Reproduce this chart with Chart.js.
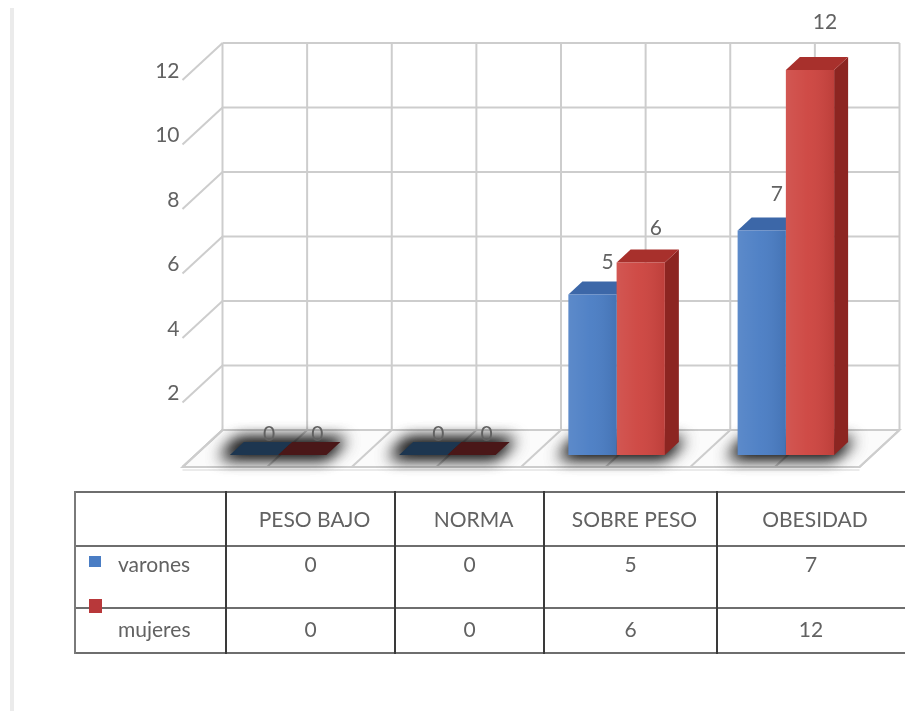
<!DOCTYPE html>
<html>
<head>
<meta charset="utf-8">
<script src="https://cdn.jsdelivr.net/npm/chart.js@4/dist/chart.umd.min.js"></script>
<style>
  html, body { margin: 0; padding: 0; background: #fff; }
  #wrap { position: relative; width: 905px; height: 711px; overflow: hidden; background: #fff; }
  #c { position: absolute; left: 0; top: 0; }
  .t { position: absolute; font-family: Lato, "Open Sans", sans-serif; font-size: 21px; color: #626262;
       white-space: nowrap; line-height: 1; transform: translate(-50%, -50%); }
  .tl { transform: translate(0, -50%); }
  .ln { position: absolute; }
</style>
</head>
<body>
<div id="wrap">
  <div class="ln" style="left:10px;top:8px;width:4px;height:703px;background:#ebebeb"></div>
  <canvas id="c" width="905" height="711"></canvas>
  <div id="tbl"></div>
</div>
<script>
// Categories and series
const categories = ['PESO BAJO', 'NORMA', 'SOBRE PESO', 'OBESIDAD'];
const seriesNames = ['varones', 'mujeres'];
const varones = [0, 0, 5, 7];
const mujeres = [0, 0, 6, 12];
const yMax = 12;
const yStep = 2;

// Colours for the faces of each series: front, side, top, flat (zero value)
const faceColors = [
  { front: '#4a7dc4', side: '#2f5590', top: '#3c67a8', flat: '#1d3650', key: '#4a7dc4' },
  { front: '#cd443f', side: '#8c2521', top: '#a8302c', flat: '#4a1718', key: '#b8383a' }
];

// Pseudo-3D geometry (pixel offsets)
const WALL_DX = 29, WALL_DY = -25, WALL_K = 1.005;   // back wall relative to the bar front plane
const FLOOR_DX = -40, FLOOR_DY = 37;                 // floor depth, from wall to front edge
const BAR_DX = 14, BAR_DY = -13;                     // bar depth
const TEXT = '#626262';
const FONT = '21px Lato, "Open Sans", sans-serif';

const series = [varones, mujeres];

const box3d = {
  id: 'box3d',
  beforeDatasetsDraw(chart) {
    const { ctx, chartArea: ca, scales: { y } } = chart;
    const yZero = y.getPixelForValue(0);
    const wallY = v => yZero + WALL_DY - (yZero - y.getPixelForValue(v)) * WALL_K;
    const wL = ca.left + WALL_DX, wR = ca.right + WALL_DX;
    const yTop = wallY(y.max), yBot = wallY(0);

    ctx.save();
    ctx.lineCap = 'butt';
    // floor
    ctx.beginPath();
    ctx.moveTo(wL, yBot); ctx.lineTo(wR, yBot);
    ctx.lineTo(wR + FLOOR_DX, yBot + FLOOR_DY); ctx.lineTo(wL + FLOOR_DX, yBot + FLOOR_DY);
    ctx.closePath();
    ctx.fillStyle = '#fbfbfb'; ctx.fill();
    ctx.strokeStyle = '#cdcdcd'; ctx.lineWidth = 2; ctx.stroke();
    ctx.beginPath();
    ctx.moveTo(wL + FLOOR_DX, yBot + FLOOR_DY + 3); ctx.lineTo(wR + FLOOR_DX, yBot + FLOOR_DY + 3);
    ctx.strokeStyle = '#e4e4e4'; ctx.lineWidth = 1.5; ctx.stroke();

    // back wall: vertical lines at category edges and centres, floor diagonals
    const n = chart.data.labels.length * 2;
    ctx.strokeStyle = '#cdcdcd'; ctx.lineWidth = 2;
    for (let i = 0; i <= n; i++) {
      const x = wL + (wR - wL) * i / n;
      ctx.beginPath(); ctx.moveTo(x, yTop); ctx.lineTo(x, yBot); ctx.stroke();
      ctx.beginPath(); ctx.moveTo(x, yBot); ctx.lineTo(x + FLOOR_DX, yBot + FLOOR_DY); ctx.stroke();
    }
    // horizontal gridlines, diagonal ticks and tick labels
    ctx.font = FONT; ctx.fillStyle = TEXT;
    ctx.textAlign = 'right'; ctx.textBaseline = 'middle';
    y.ticks.forEach(t => {
      const py = wallY(t.value);
      ctx.beginPath(); ctx.moveTo(wL, py); ctx.lineTo(wR, py); ctx.stroke();
      ctx.beginPath(); ctx.moveTo(wL, py); ctx.lineTo(wL + FLOOR_DX, py + FLOOR_DY); ctx.stroke();
      if (t.value > 0) ctx.fillText(t.label, wL + FLOOR_DX - 3, py + FLOOR_DY - 9);
    });

    // soft shadows under every bar pair (shape drawn off-canvas, only its shadow lands here)
    const m0 = chart.getDatasetMeta(0), m1 = chart.getDatasetMeta(1);
    const OFF = 3000;
    m0.data.forEach((b, i) => {
      const r = m1.data[i];
      const l = b.x - b.width / 2, rr = r.x + r.width / 2, base = b.base;
      ctx.save();
      ctx.shadowColor = 'rgba(0,0,0,0.8)';
      ctx.shadowOffsetX = OFF;
      ctx.shadowBlur = 16;
      ctx.fillStyle = '#000';
      for (let k = 0; k < 2; k++) {
        ctx.beginPath();
        ctx.moveTo(l - 10 - OFF, base + 3); ctx.lineTo(rr - OFF, base + 3);
        ctx.lineTo(rr + BAR_DX + 6 - OFF, base + BAR_DY - 3); ctx.lineTo(l + BAR_DX - 6 - OFF, base + BAR_DY - 3);
        ctx.closePath(); ctx.fill();
      }
      ctx.restore();
    });

    // side and top faces (front faces are drawn by the bar elements)
    chart.data.datasets.forEach((ds, di) => {
      const meta = chart.getDatasetMeta(di), c = faceColors[di];
      meta.data.forEach((el, i) => {
        const l = el.x - el.width / 2, r = el.x + el.width / 2, top = el.y, base = el.base;
        if (ds.data[i] > 0) {
          ctx.fillStyle = c.side;
          ctx.beginPath();
          ctx.moveTo(r, top); ctx.lineTo(r + BAR_DX, top + BAR_DY);
          ctx.lineTo(r + BAR_DX, base + BAR_DY); ctx.lineTo(r, base);
          ctx.closePath(); ctx.fill();
        }
        ctx.fillStyle = ds.data[i] > 0 ? c.top : c.flat;
        ctx.beginPath();
        ctx.moveTo(l, top); ctx.lineTo(r, top);
        ctx.lineTo(r + BAR_DX, top + BAR_DY); ctx.lineTo(l + BAR_DX, top + BAR_DY);
        ctx.closePath(); ctx.fill();
      });
    });
    ctx.restore();
  },
  afterDatasetsDraw(chart) {
    const { ctx, scales: { y } } = chart;
    const yZero = y.getPixelForValue(0);
    ctx.save();
    // light sheen across the front faces
    chart.data.datasets.forEach((ds, di) => {
      chart.getDatasetMeta(di).data.forEach((el, i) => {
        if (!(ds.data[i] > 0)) return;
        const l = el.x - el.width / 2;
        const g = ctx.createLinearGradient(l, 0, l + el.width, 0);
        g.addColorStop(0, 'rgba(255,255,255,0.10)');
        g.addColorStop(0.45, 'rgba(255,255,255,0.04)');
        g.addColorStop(1, 'rgba(0,0,0,0.08)');
        ctx.fillStyle = g;
        ctx.fillRect(l, el.y, el.width, el.base - el.y);
      });
    });
    // value labels above the top faces
    ctx.font = FONT; ctx.fillStyle = TEXT;
    ctx.textAlign = 'center'; ctx.textBaseline = 'middle';
    chart.data.datasets.forEach((ds, di) => {
      chart.getDatasetMeta(di).data.forEach((el, i) => {
        const cx = el.x + BAR_DX / 2, cy = el.y + BAR_DY / 2;
        const ly = cy - 14 - (yZero - cy) * 0.07;
        ctx.fillText(String(ds.data[i]), cx + 8, ly);
      });
    });
    ctx.restore();
  }
};

new Chart(document.getElementById('c'), {
  type: 'bar',
  data: {
    labels: categories,
    datasets: series.map((vals, i) => ({
      label: seriesNames[i],
      data: vals,
      backgroundColor: faceColors[i].front,
      borderWidth: 0,
      barPercentage: 1,
      categoryPercentage: 0.57
    }))
  },
  options: {
    responsive: false,
    animation: false,
    events: [],
    layout: { padding: { left: 193.5, right: 34.5, top: 70, bottom: 256 } },
    plugins: { legend: { display: false }, tooltip: { enabled: false } },
    scales: {
      x: { display: false, offset: true },
      y: { display: false, min: 0, max: yMax, ticks: { stepSize: yStep } }
    }
  },
  plugins: [box3d]
});

// data table with legend keys
(function buildTable() {
  const host = document.getElementById('tbl');
  const colX = [75, 226, 395, 544, 717, 905];
  const rowY = [492, 546, 608, 653];
  const textY = [518, 563, 628];
  const add = (cls, style, text) => {
    const d = document.createElement('div');
    d.className = cls; d.style.cssText = style;
    if (text != null) d.textContent = text;
    host.appendChild(d);
  };
  rowY.forEach(yy => add('ln', `left:${colX[0]}px;top:${yy - 1}px;width:${colX[5] - colX[0]}px;height:2px;background:#6e6e6e`));
  colX.slice(0, 5).forEach((xx, i) => add('ln',
    `left:${xx - 1}px;top:${rowY[0] - 1}px;width:2px;height:${rowY[3] - rowY[0] + 2}px;background:${i === 0 ? '#7a7a7a' : '#3a3a3a'}`));
  categories.forEach((c, i) => add('t', `left:${(colX[i + 1] + colX[i + 2]) / 2 + 4}px;top:${textY[0]}px`, c));
  series.forEach((vals, si) => {
    add('t tl', `left:118px;top:${textY[si + 1]}px`, seriesNames[si]);
    vals.forEach((v, i) => add('t', `left:${(colX[i + 1] + colX[i + 2]) / 2}px;top:${textY[si + 1]}px`, String(v)));
  });
  add('ln', `left:89px;top:556px;width:12px;height:11px;background:${faceColors[0].key}`);
  add('ln', `left:89px;top:599px;width:13px;height:14px;background:${faceColors[1].key}`);
})();
</script>
</body>
</html>
